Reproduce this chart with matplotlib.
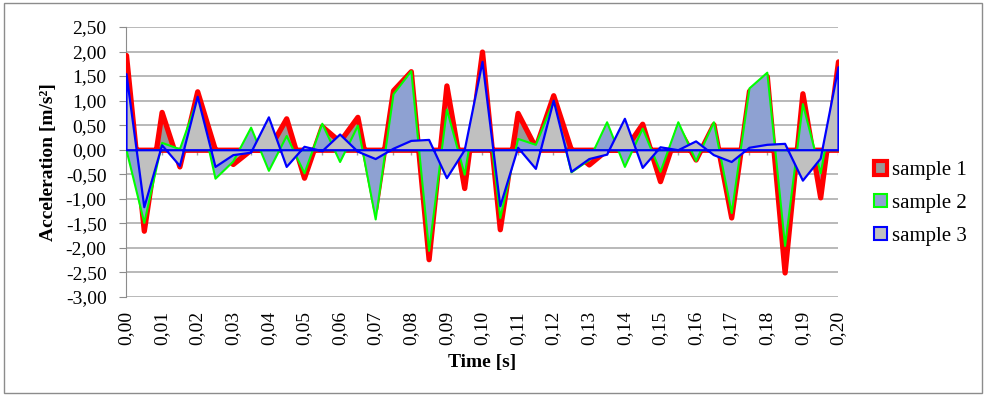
import matplotlib.pyplot as plt
from matplotlib.patches import Patch, Rectangle
import numpy as np

plt.rcParams["font.family"] = ["Liberation Serif", "DejaVu Serif"]

# time axis, one sample every 5 ms
time = np.round(np.arange(41) * 0.005, 3)

sample1 = [1.93, -1.65, 0.77, -0.34, 1.19, 0.00, -0.29, 0.00, 0.00, 0.64,
           -0.57, 0.48, 0.17, 0.67, -1.20, 1.21, 1.60, -2.23, 1.31, -0.78,
           2.00, -1.62, 0.75, 0.05, 1.11, 0.00, -0.30, 0.00, 0.00, 0.53,
           -0.64, 0.45, -0.20, 0.52, -1.38, 1.20, 1.50, -2.50, 1.15, -0.97,
           1.80]
sample2 = [0.00, -1.48, 0.15, 0.02, 1.05, -0.58, -0.23, 0.46, -0.42, 0.29,
           -0.47, 0.54, -0.24, 0.50, -1.41, 1.14, 1.61, -2.05, 0.83, -0.50,
           1.70, -1.38, 0.23, 0.11, 1.00, -0.45, -0.20, 0.57, -0.34, 0.44,
           -0.44, 0.57, -0.22, 0.57, -1.28, 1.26, 1.58, -1.95, 0.94, -0.47,
           1.50]
sample3 = [1.55, -1.16, 0.10, -0.32, 1.09, -0.34, -0.10, -0.05, 0.67, -0.34,
           0.07, -0.02, 0.32, -0.03, -0.18, 0.03, 0.19, 0.21, -0.57, 0.00,
           1.80, -1.14, 0.05, -0.38, 1.01, -0.44, -0.18, -0.09, 0.64, -0.36,
           0.06, 0.00, 0.18, -0.10, -0.24, 0.05, 0.11, 0.13, -0.62, -0.17,
           1.69]

labels = ["sample 1", "sample 2", "sample 3"]
edges = ["#FF0000", "#00FF00", "#0000FF"]
fills = ["#999999", "#8EA1D2", "#C0C0C0"]
widths = [3.8, 1.5, 1.6]

fig = plt.figure(figsize=(9.85, 3.96), dpi=100)
ax = fig.add_axes([126 / 985, 1 - 297 / 396, 712 / 985, 270 / 396])

for y, ec, fc, lw in zip([sample1, sample2, sample3], edges, fills, widths):
    ax.fill_between(time, 0, y, facecolor=fc, edgecolor=ec, linewidth=lw,
                    joinstyle="round", zorder=3)

ax.set_xlim(0, 0.2)
ax.set_ylim(-3, 2.5)
yt = np.arange(-3, 2.51, 0.5)
ax.set_yticks(yt)
ax.set_yticklabels([f"{v:.2f}".replace(".", ",") for v in yt], fontsize=14)
ax.yaxis.grid(True, color="#A6A6A6", linewidth=1.1, zorder=0)
ax.set_axisbelow(True)

xt = time[::2]
ax.set_xticks(xt)
ax.set_xticklabels([f"{v:.2f}".replace(".", ",") for v in xt],
                   rotation=90, fontsize=14)
ax.tick_params(axis="x", length=0, pad=10)
ax.tick_params(axis="y", length=5, color="#8C8C8C", direction="out", pad=9)

# small category tick marks hanging from the zero line
ax.vlines(time, -0.1, 0, color="#A0A0A0", linewidth=1, zorder=1)

for s in ["top", "right", "bottom"]:
    ax.spines[s].set_visible(False)
ax.spines["left"].set_color("#8C8C8C")

ax.set_ylabel("Acceleration [m/s²]", fontsize=14, fontweight="bold", labelpad=6)
ax.set_xlabel("Time [s]", fontsize=14, fontweight="bold", labelpad=6)

handles = [Patch(facecolor=fc, edgecolor=ec, linewidth=lw)
           for fc, ec, lw in zip(fills, edges, [3, 1.5, 1.5])]
fig.legend(handles, labels, loc="upper left", bbox_to_anchor=(866 / 985, 1 - 153 / 396),
           frameon=False, fontsize=15, handlelength=0.6, handleheight=0.6,
           handletextpad=0.25, labelspacing=0.66, borderaxespad=0)

fig.patches.append(Rectangle((4 / 985, 3 / 396), 978 / 985, 390 / 396,
                             transform=fig.transFigure, fill=False,
                             edgecolor="#8C8C8C", linewidth=1))

plt.savefig("out.png", dpi=100)
plt.close()
